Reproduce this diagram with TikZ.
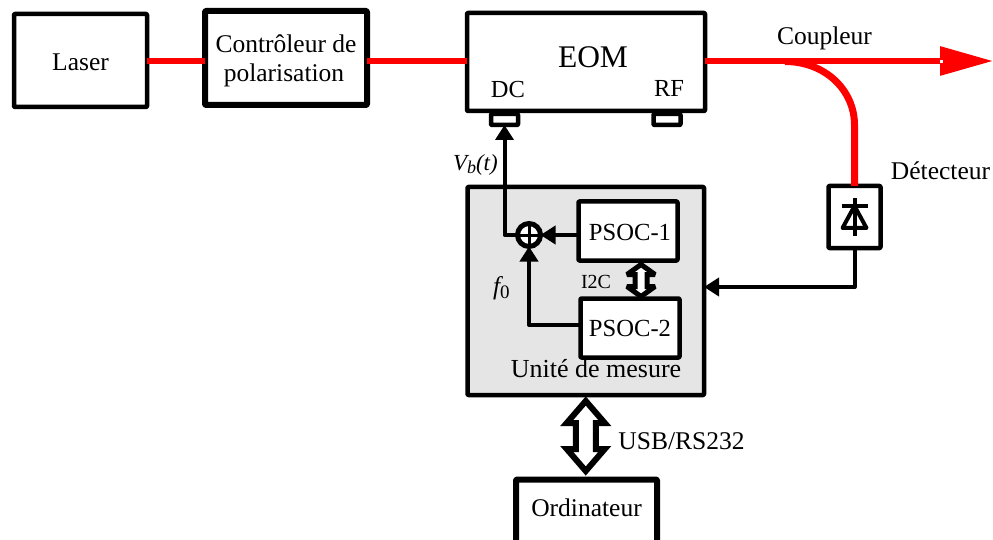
\documentclass[tikz,border=0pt]{standalone}
\usepackage{fontspec}
\setmainfont{Liberation Serif}
\usetikzlibrary{arrows.meta}
\newcommand{\fs}[1]{\fontsize{#1pt}{#1pt}\selectfont}
\tikzset{
  box/.style={draw=black,fill=white,line width=#1,line join=round,rounded corners=0.8pt,inner sep=0pt,outer sep=0pt,align=center,font=\fs{25.5}},
  box/.default=4.5pt,
  lbl/.style={inner sep=0pt,outer sep=0pt,font=\fs{25.5}},
  fibre/.style={draw=red,line width=6pt},
  arr/.style={draw=black,line width=4pt,line join=round,-{Triangle[length=15pt,width=18pt]}},
  dbl/.style={draw=black,fill=white,line width=#1,line join=miter,miter limit=3}
}
\begin{document}
\begin{tikzpicture}[x=1pt,y=-1pt]
\useasboundingbox (0,0) rectangle (993,540);
\clip (0,0) rectangle (993,540);
\coordinate (rline) at (0,61);
\coordinate (end) at (993,61);
% Boxes
\node[box,minimum width=133pt,minimum height=93pt] (laser) at (80.5,60.5) {};
\node[lbl] (lasert) at (80.5,62) {Laser};
\node[box=6pt,minimum width=162pt,minimum height=94pt] (ctrl) at (286,58) {};
\node[lbl] (ctrl1) at (286,44) {Contrôleur de};
\node[lbl] (ctrl2) at (284,75) {polarisation};
\node[box,minimum width=238pt,minimum height=98pt] (eom) at (586,62) {};
\node[lbl,font=\fs{31.5}] (eomt) at (593,57) {EOM};
\node[lbl,font=\fs{24.5}] (dct) at (508,90) {DC};
\node[lbl,font=\fs{24.5}] (rft) at (669,88.5) {RF};
\node[box,minimum width=27pt,minimum height=11pt] (dc) at (504.5,119.5) {};
\node[box,minimum width=27pt,minimum height=11pt] (rf) at (667,119.5) {};
\node[box,fill=black!10,minimum width=236.5pt,minimum height=208pt] (unit) at (585.75,291) {};
\node[box,minimum width=99pt,minimum height=59pt] (p1) at (628,231) {};
\node[lbl,font=\fs{24.6}] (p1t) at (630,232) {PSOC-1};
\node[box,minimum width=99pt,minimum height=59pt] (p2) at (630,328) {\fs{24.6}PSOC-2};
\node[lbl,font=\fs{26}] (ut) at (596,369) {Unité de mesure};
\node[circle,draw=black,fill=white,line width=5pt,minimum size=23pt,inner sep=0pt,outer sep=0pt] (sum) at (529,235) {};
\draw[line width=3pt] (sum.north) -- (sum.south) (sum.west) -- (sum.east);
\node[box=6pt,minimum width=141pt,minimum height=65pt] (ord) at (586.5,512) {};
\node[lbl] (ordt) at (586.5,508) {Ordinateur};
\node[box,minimum width=52pt,minimum height=62pt] (det) at (854.5,217) {};
% Diode
\coordinate (dtop) at (854.5,206);
\coordinate (dbase) at (854.5,228);
\draw[line width=4pt,line join=round,fill=white] (dtop) -- ++(-12,22) -- ++(24,0) -- cycle;
\draw[line width=4pt] (dtop) ++(-13,0) -- ++(26,0);
\draw[line width=4pt] (dtop) ++(0,-8) -- (dbase) -- ++(0,8);
% Red fibres
\draw[fibre] (laser.east |- rline) -- (ctrl.west |- rline);
\draw[fibre] (ctrl.east |- rline) -- (eom.west |- rline);
\draw[fibre,-{Triangle[length=53pt,width=28pt]}] (eom.east |- rline) -- (end);
\draw[fibre,line width=7pt] (785,61.5) .. controls (825,61.5) and (854.5,90) .. (854.5,125) -- (det.north);
\fill[white] (940,60) rectangle +(3,3);
% Electrical
\draw[arr] (sum.west) -| (dc.south);
\draw[arr] (p1.west |- sum) -- (sum.east);
\draw[arr] ([yshift=3pt]p2.west) -| (sum.south);
\draw[arr] (det.south) |- (unit.east |- 0,287);
% Double arrows
\draw[dbl=5pt] ([yshift=-1pt]p1.south) ++(13,3) -- ++(14,10) -- ++(-8,0) -- ++(0,12) -- ++(8,0) -- ++(-14,10) -- ++(-14,-10) -- ++(8,0) -- ++(0,-12) -- ++(-8,0) -- cycle;
\draw[dbl=6pt] (unit.south) ++(0,6) -- ++(19,22) -- ++(-9,0) -- ++(0,26) -- ++(9,0) -- ++(-19,22) -- ++(-19,-22) -- ++(9,0) -- ++(0,-26) -- ++(-9,0) -- cycle;
% Labels
\node[lbl] (coup) at (824.5,38) {Coupleur};
\node[lbl] (dett) at (940.5,171) {Détecteur};
\node[lbl,font=\fs{23}\itshape,anchor=west] (vb) at (453,165) {V\raisebox{-3pt}{\fs{18}b}(t)};
\node[lbl,anchor=west] (f0) at (493,288) {\itshape f\raisebox{-4pt}{\fs{19}\upshape 0}};
\node[lbl,font=\fs{20}] (i2c) at (596,282) {I2C};
\node[lbl] (usb) at (681.5,441) {USB/RS232};
\end{tikzpicture}
\end{document}
